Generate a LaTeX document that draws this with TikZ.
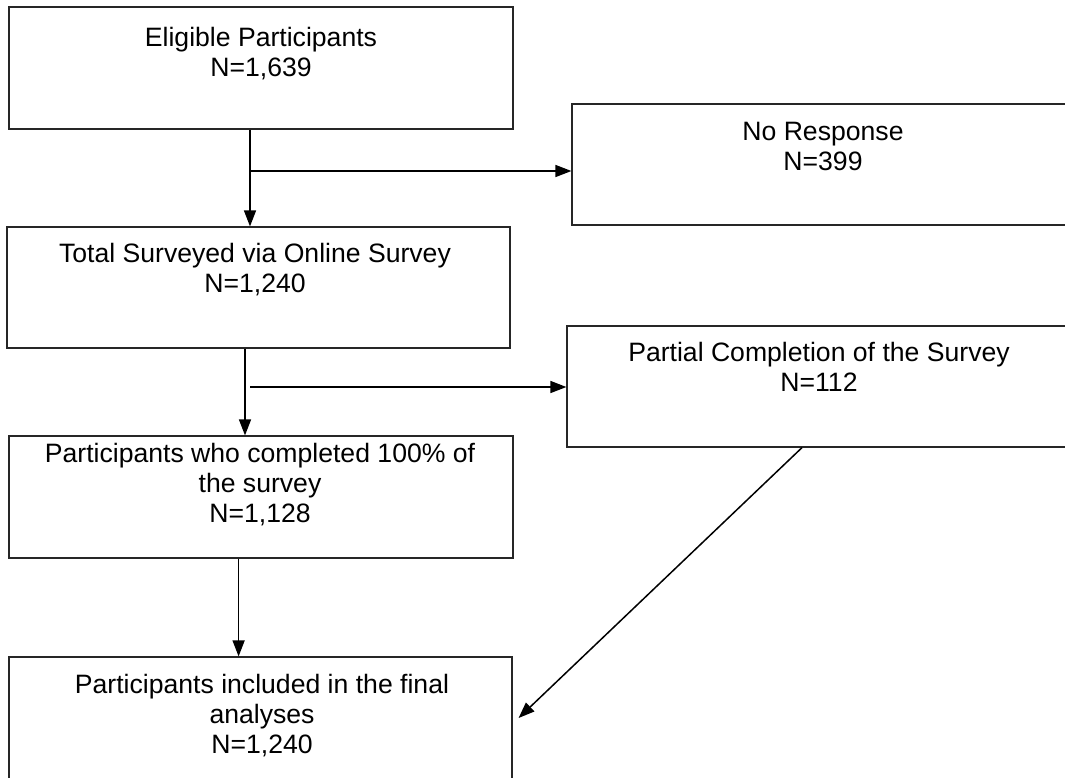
\documentclass[tikz,border=0pt]{standalone}
\usepackage{fontspec}
\setmainfont{Liberation Sans}
\usetikzlibrary{arrows.meta}
\begin{document}
\begin{tikzpicture}[x=1pt,y=-1pt,
  box/.style={draw=black!85, line width=1.2pt, rectangle, inner sep=0pt, minimum width=504pt, minimum height=122pt},
  lbl/.style={anchor=base, inner sep=0pt, font=\fontsize{26.6}{30.4}\selectfont},
  arr/.style={draw=black, line width=1.5pt, -{Triangle[length=16pt,width=12pt]}}]
\useasboundingbox (0,0) rectangle (1065,777);
\clip (0,0) rectangle (1065,777);
% boxes
\node[box] (b1) at (261,68) {};
\node[box, minimum width=502pt, minimum height=121pt] (b2) at (823,164.5) {};
\node[box, minimum width=503pt, minimum height=121pt] (b3) at (258.5,287.5) {};
\node[box, minimum height=121pt] (b4) at (819,386.5) {};
\node[box] (b5) at (261,497) {};
\node[box, minimum width=503pt] (b6) at (260.5,718) {};
% texts
\node[lbl] (t1) at (261,46) {\begin{tabular}[t]{@{}c@{}}Eligible Participants\\N=1,639\end{tabular}};
\node[lbl] (t2) at (823,140.5) {\begin{tabular}[t]{@{}c@{}}No Response\\N=399\end{tabular}};
\node[lbl] (t3) at (255,262) {\begin{tabular}[t]{@{}c@{}}Total Surveyed via Online Survey\\N=1,240\end{tabular}};
\node[lbl] (t4) at (819,361) {\begin{tabular}[t]{@{}c@{}}Partial Completion of the Survey\\N=112\end{tabular}};
\node[lbl] (t5) at (260,462) {\begin{tabular}[t]{@{}c@{}}Participants who completed 100\% of\\the survey\\N=1,128\end{tabular}};
\node[lbl] (t6) at (262,693) {\begin{tabular}[t]{@{}c@{}}Participants included in the final\\analyses\\N=1,240\end{tabular}};
% connectors
\coordinate (c1) at (250,171);
\coordinate (c2) at (250,387);
\draw[arr] ([xshift=-11pt]b1.south) -- ([xshift=-11pt]b1.south |- b3.north);
\draw[arr] (c1) -- (c1 -| b2.west);
\draw[arr] ([xshift=-13.5pt]b3.south) -- ([xshift=-13.5pt]b3.south |- b5.north);
\draw[arr] (c2) -- (c2 -| b4.west);
\draw[arr] ([xshift=-22.4pt]b5.south) -- ([xshift=-22.4pt]b5.south |- b6.north);
\draw[arr] ([xshift=-17pt]b4.south) -- ([xshift=6pt]b6.east);
\end{tikzpicture}
\end{document}
